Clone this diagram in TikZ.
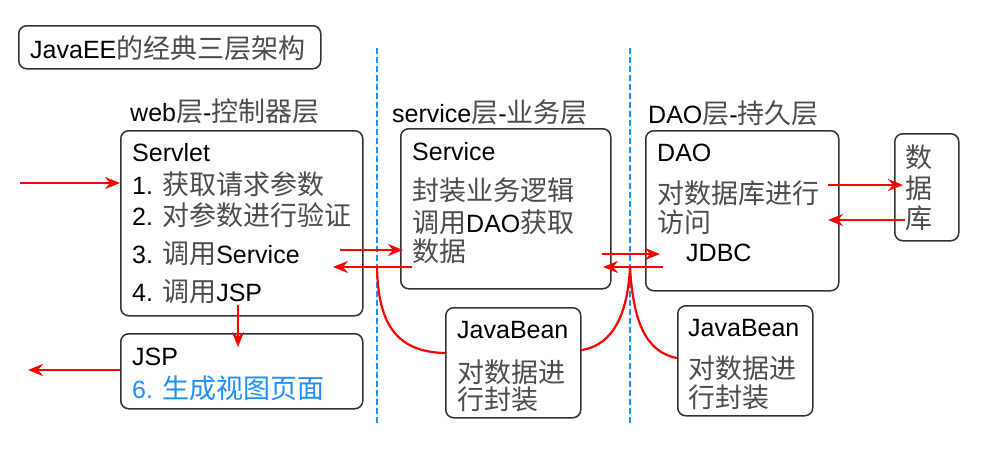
\documentclass[tikz,border=0pt]{standalone}
\usepackage{fontspec}
\setmainfont{Liberation Sans}
\newfontfamily\cjk[Scale=1.08]{Noto Sans CJK SC}
\usetikzlibrary{arrows.meta,calc}
\definecolor{cjkgray}{gray}{0.3}
\definecolor{sepblue}{HTML}{1E8FFF}
\newcommand{\zh}[1]{{\cjk\color{cjkgray}#1}}
\newcommand{\zhb}[1]{{\cjk #1}}
\begin{document}
\begin{tikzpicture}[x=1pt,y=-1pt,
 box/.style={draw=black!80,line width=1.5pt,rounded corners=8pt,anchor=north west,inner sep=0pt},
 txt/.style={anchor=west,inner sep=0pt,font=\fontsize{25}{30}\selectfont},
 redarrow/.style={draw=red,line width=2.2pt,-{Stealth[length=15pt,width=12pt,inset=5pt]}},
 redline/.style={draw=red,line width=2.2pt},
 sepline/.style={draw=sepblue,line width=2.2pt,dash pattern=on 6pt off 3pt}]
\useasboundingbox (0,0) rectangle (981,450);
\fill[white] (0,0) rectangle (981,450);
% boxes
\node[box,minimum width=302pt,minimum height=43pt] (title) at (18,25) {};
\node[box,minimum width=242pt,minimum height=185pt] (servlet) at (120,130) {};
\node[box,minimum width=242pt,minimum height=75pt] (jsp) at (120,333) {};
\node[box,minimum width=210pt,minimum height=160pt] (service) at (400,128) {};
\node[box,minimum width=135pt,minimum height=110pt] (jb1) at (445,307) {};
\node[box,minimum width=193pt,minimum height=160pt] (dao) at (645,130) {};
\node[box,minimum width=135pt,minimum height=110pt] (jb2) at (677,305) {};
\node[box,minimum width=64pt,minimum height=107pt] (db) at (894,133) {};
% separators
\coordinate (s1t) at (377,48); \coordinate (s1b) at (377,425);
\coordinate (s2t) at (630,48); \coordinate (s2b) at (630,425);
\draw[sepline] (s1t) -- (s1b);
\draw[sepline] (s2t) -- (s2b);
% texts
\node[txt] (tt) at (30,48) {JavaEE\zh{的经典三层架构}};
\node[txt] (l1) at (130,111) {web\zh{层}-\zh{控制器层}};
\node[txt] (l2) at (392,112) {service\zh{层}-\zh{业务层}};
\node[txt] (l3) at (648,113) {DAO\zh{层}-\zh{持久层}};
\node[txt] (sv0) at (132,153) {Servlet};
\node[txt] (sv1) at (132,184) {1. \zh{获取请求参数}};
\node[txt] (sv2) at (132,215) {2. \zh{对参数进行验证}};
\node[txt] (sv3) at (132,254) {3. \zh{调用}Service};
\node[txt] (sv4) at (132,292) {4. \zh{调用}JSP};
\node[txt] (jp0) at (132,357) {JSP};
\node[txt,text=sepblue] (jp1) at (132,388) {6. \zhb{生成视图页面}};
\node[txt] (se0) at (412,152) {Service};
\node[txt] (se1) at (412,190) {\zh{封装业务逻辑}};
\node[txt] (se2) at (412,222) {\zh{调用}DAO\zh{获取}};
\node[txt] (se3) at (412,251) {\zh{数据}};
\node[txt] (b10) at (457,330) {JavaBean};
\node[txt] (b11) at (457,372) {\zh{对数据进}};
\node[txt] (b12) at (457,399) {\zh{行封装}};
\node[txt] (d0) at (657,153) {DAO};
\node[txt] (d1) at (657,193) {\zh{对数据库进行}};
\node[txt] (d2) at (657,222) {\zh{访问}};
\node[txt] (d3) at (686,253) {JDBC};
\node[txt] (b20) at (688,328) {JavaBean};
\node[txt] (b21) at (688,368) {\zh{对数据进}};
\node[txt] (b22) at (688,397) {\zh{行封装}};
\node[txt,anchor=center] (db1) at (919,157) {\zh{数}};
\node[txt,anchor=center] (db2) at (919,188) {\zh{据}};
\node[txt,anchor=center] (db3) at (919,218) {\zh{库}};
% arrows
\coordinate (in) at (20,183);
\coordinate (out) at (28,370);
\draw[redarrow] (in) -- (servlet.west |- in);
\draw[redarrow] (jsp.west |- out) -- (out);
\coordinate (dn1) at (238,305); \coordinate (dn2) at (238,347);
\draw[redarrow] (dn1) -- (dn2);
\coordinate (a1) at (340,250); \coordinate (a2) at (403,250);
\coordinate (a3) at (412,267); \coordinate (a4) at (333,267);
\draw[redarrow] (a1) -- (a2);
\draw[redarrow] (a3) -- (a4);
\coordinate (b1) at (602,254); \coordinate (b2) at (660,254);
\coordinate (b3) at (663,267); \coordinate (b4) at (603,267);
\draw[redarrow] (b1) -- (b2);
\draw[redarrow] (b3) -- (b4);
\coordinate (c1) at (828,185); \coordinate (c2) at (903,185);
\coordinate (c3) at (905,220); \coordinate (c4) at (828,220);
\draw[redarrow] (c1) -- (c2);
\draw[redarrow] (c3) -- (c4);
% curves
\coordinate (j1) at (377,267); \coordinate (j2) at (630,267);
\draw[redline] (j1) .. controls (378,322) and (395,352) .. ($(jb1.north west)+(0,46)$);
\draw[redline] ($(jb1.north east)+(0,43)$) .. controls (615,345) and (628,310) .. (j2);
\draw[redline] (j2) .. controls (633,320) and (645,352) .. ($(jb2.north west)+(0,53)$);
\end{tikzpicture}
\end{document}
